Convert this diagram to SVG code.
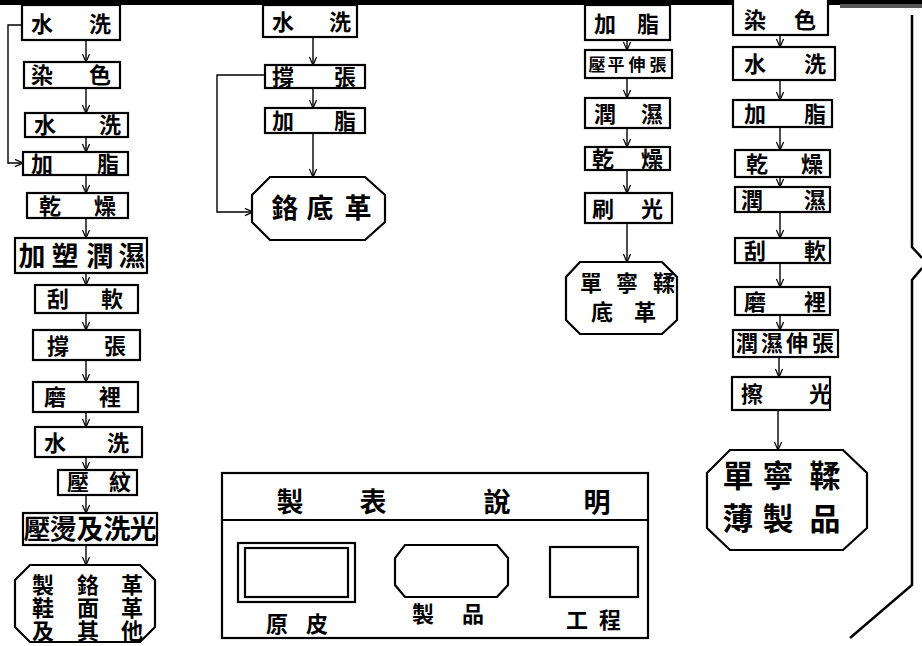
<svg xmlns="http://www.w3.org/2000/svg" width="922" height="646" viewBox="0 0 922 646">
<defs>
<style>
.b{fill:#fff;stroke:#000;stroke-width:2.2}
.c{fill:none;stroke:#000;stroke-width:1.4}
.t{font-family:'Liberation Sans','Noto Sans CJK TC','Noto Sans CJK SC',sans-serif;font-weight:700;fill:#000;text-anchor:middle}
.s22{font-size:22px}.s18{font-size:17px}.s26{font-size:27px}.s30{font-size:31px}
</style>
<marker id="ah" viewBox="0 0 10 10" refX="10" refY="5" markerWidth="9" markerHeight="9" markerUnits="userSpaceOnUse" orient="auto">
<path d="M1,1 L10,5 L1,9" fill="none" stroke="#000" stroke-width="1.4"/>
</marker>
</defs>
<rect x="0" y="0" width="922" height="646" fill="#fff"/>
<rect x="0" y="0" width="922" height="5" fill="#000"/>
<rect x="840" y="4" width="82" height="4" fill="#555"/>

<g id="connectors" class="c" marker-end="url(#ah)">
<line x1="86" y1="40" x2="86" y2="62"/>
<line x1="86" y1="88" x2="86" y2="113"/>
<line x1="86" y1="137" x2="86" y2="152"/>
<line x1="86" y1="175" x2="86" y2="193"/>
<line x1="86" y1="218" x2="86" y2="238"/>
<line x1="86" y1="273" x2="86" y2="285"/>
<line x1="86" y1="313" x2="86" y2="330"/>
<line x1="86" y1="360" x2="86" y2="382"/>
<line x1="86" y1="412" x2="86" y2="427"/>
<line x1="86" y1="457" x2="86" y2="470"/>
<line x1="86" y1="495" x2="86" y2="513"/>
<line x1="86" y1="545" x2="86" y2="565"/>
<polyline points="24,25 8,25 8,163 23,163"/>
<line x1="313" y1="37" x2="313" y2="65"/>
<line x1="313" y1="88" x2="313" y2="108"/>
<line x1="313" y1="133" x2="313" y2="177"/>
<polyline points="265,75 217,75 217,212 253,212"/>
<line x1="627" y1="40" x2="627" y2="50"/>
<line x1="627" y1="78" x2="627" y2="98"/>
<line x1="627" y1="128" x2="627" y2="147"/>
<line x1="627" y1="170" x2="627" y2="193"/>
<line x1="627" y1="223" x2="627" y2="262"/>
<line x1="780" y1="35" x2="780" y2="47"/>
<line x1="780" y1="80" x2="780" y2="100"/>
<line x1="780" y1="127" x2="780" y2="150"/>
<line x1="780" y1="177" x2="780" y2="187"/>
<line x1="780" y1="212" x2="780" y2="238"/>
<line x1="780" y1="263" x2="780" y2="287"/>
<line x1="780" y1="315" x2="780" y2="330"/>
<line x1="779" y1="357" x2="779" y2="377"/>
<line x1="778" y1="410" x2="778" y2="450"/>
</g>

<g id="c1n1"><rect class="b" x="22" y="5" width="98" height="35"/><text class="t s22" x="42 100" y="32">水洗</text></g>
<g id="c1n2"><rect class="b" x="24" y="62" width="96" height="26"/><text class="t s22" x="42 100" y="83">染色</text></g>
<g id="c1n3"><rect class="b" x="25" y="113" width="103" height="24"/><text class="t s22" x="45 110" y="133">水洗</text></g>
<g id="c1n4"><rect class="b" x="23" y="152" width="105" height="23"/><text class="t s22" x="42 108" y="172">加脂</text></g>
<g id="c1n5"><rect class="b" x="27" y="193" width="101" height="25"/><text class="t s22" x="50 105" y="214">乾燥</text></g>
<g id="c1n6"><rect class="b" x="15" y="238" width="132" height="35"/><text class="t s26" x="32 65 100 132" y="266">加塑潤濕</text></g>
<g id="c1n7"><rect class="b" x="35" y="285" width="103" height="28"/><text class="t s22" x="58 112" y="307">刮軟</text></g>
<g id="c1n8"><rect class="b" x="33" y="330" width="107" height="30"/><text class="t s22" x="58 115" y="354">撐張</text></g>
<g id="c1n9"><rect class="b" x="33" y="382" width="105" height="30"/><text class="t s22" x="55 110" y="405">磨裡</text></g>
<g id="c1n10"><rect class="b" x="35" y="427" width="107" height="30"/><text class="t s22" x="55 118" y="451">水洗</text></g>
<g id="c1n11"><rect class="b" x="58" y="470" width="79" height="25"/><text class="t s22" x="78 120" y="490">壓紋</text></g>
<g id="c1n12"><rect class="b" x="23" y="513" width="134" height="32"/><text class="t s26" x="37 63 90 117 143" y="539">壓燙及洗光</text></g>
<g id="c1n13"><polygon class="b" points="30,565 140,565 155,580 155,627 140,642 30,642 15,627 15,580"/><text class="t s22" x="43 88 132" y="593">製鉻革</text><text class="t s22" x="43 88 132" y="616">鞋面革</text><text class="t s22" x="43 88 132" y="639">及其他</text></g>

<g id="c2n1"><rect class="b" x="263" y="5" width="94" height="32"/><text class="t s22" x="283 340" y="30">水洗</text></g>
<g id="c2n2"><rect class="b" x="265" y="65" width="100" height="23"/><text class="t s22" x="283 345" y="85">撐張</text></g>
<g id="c2n3"><rect class="b" x="265" y="108" width="100" height="25"/><text class="t s22" x="283 345" y="129">加脂</text></g>
<g id="c2n4"><polygon class="b" points="270,177 365,177 385,195 385,222 365,240 270,240 252,222 252,195"/><text class="t s26" x="285 320 358" y="218">鉻底革</text></g>

<g id="c3n1"><rect class="b" x="585" y="5" width="85" height="35"/><text class="t s22" x="605 648" y="32">加脂</text></g>
<g id="c3n2"><rect class="b" x="585" y="50" width="87" height="28"/><text class="t s18" x="597 616 637 658" y="71">壓平伸張</text></g>
<g id="c3n3"><rect class="b" x="585" y="98" width="85" height="30"/><text class="t s22" x="605 652" y="122">潤濕</text></g>
<g id="c3n4"><rect class="b" x="585" y="147" width="85" height="23"/><text class="t s22" x="603 652" y="167">乾燥</text></g>
<g id="c3n5"><rect class="b" x="585" y="193" width="87" height="30"/><text class="t s22" x="603 652" y="217">刷光</text></g>
<g id="c3n6"><polygon class="b" points="580,262 662,262 677,277 677,320 662,334 580,334 566,320 566,277"/><text class="t s22" x="591 627 664" y="291">單寧鞣</text><text class="t s22" x="602 645" y="320">底革</text></g>

<g id="c4n1"><rect class="b" x="733" y="-2" width="95" height="37"/><text class="t s22" x="755 805" y="28">染色</text></g>
<g id="c4n2"><rect class="b" x="733" y="47" width="102" height="33"/><text class="t s22" x="755 815" y="72">水洗</text></g>
<g id="c4n3"><rect class="b" x="733" y="100" width="99" height="27"/><text class="t s22" x="755 815" y="122">加脂</text></g>
<g id="c4n4"><rect class="b" x="735" y="150" width="95" height="27"/><text class="t s22" x="757 812" y="172">乾燥</text></g>
<g id="c4n5"><rect class="b" x="735" y="187" width="95" height="25"/><text class="t s22" x="752 815" y="208">潤濕</text></g>
<g id="c4n6"><rect class="b" x="735" y="238" width="95" height="25"/><text class="t s22" x="755 815" y="259">刮軟</text></g>
<g id="c4n7"><rect class="b" x="735" y="287" width="95" height="28"/><text class="t s22" x="755 815" y="310">磨裡</text></g>
<g id="c4n8"><rect class="b" x="733" y="330" width="105" height="27"/><text class="t s22" x="747 772 797 823" y="351">潤濕伸張</text></g>
<g id="c4n9"><rect class="b" x="732" y="377" width="98" height="33"/><text class="t s22" x="752 820" y="402">擦光</text></g>
<g id="c4n10"><polygon class="b" points="730,450 843,450 867,473 867,528 843,550 730,550 707,528 707,473"/><text class="t s30" x="738 778 825" y="487">單寧鞣</text><text class="t s30" x="738 778 825" y="530">薄製品</text></g>

<g id="frame" fill="none" stroke="#000" stroke-width="2.5">
<polyline points="912,15 912,247 922,258"/>
<polyline points="922,268 912,280 912,585 850,638"/>
</g>

<g id="legend">
<rect class="b" x="222" y="473" width="426" height="165"/>
<line x1="222" y1="520" x2="648" y2="520" stroke="#000" stroke-width="2"/>
<text class="t s26" x="290 373 497 597" y="512">製表說明</text>
<rect class="b" x="238" y="543" width="117" height="59"/>
<rect class="b" x="245" y="548" width="103" height="49"/>
<polygon class="b" points="405,545 497,545 508,558 508,585 497,597 405,597 395,585 395,558"/>
<rect class="b" x="550" y="547" width="88" height="50"/>
<text class="t s22" x="277 317" y="632">原皮</text>
<text class="t s22" x="423 473" y="622">製品</text>
<text class="t s22" x="577 610" y="628">工程</text>
</g>
</svg>
